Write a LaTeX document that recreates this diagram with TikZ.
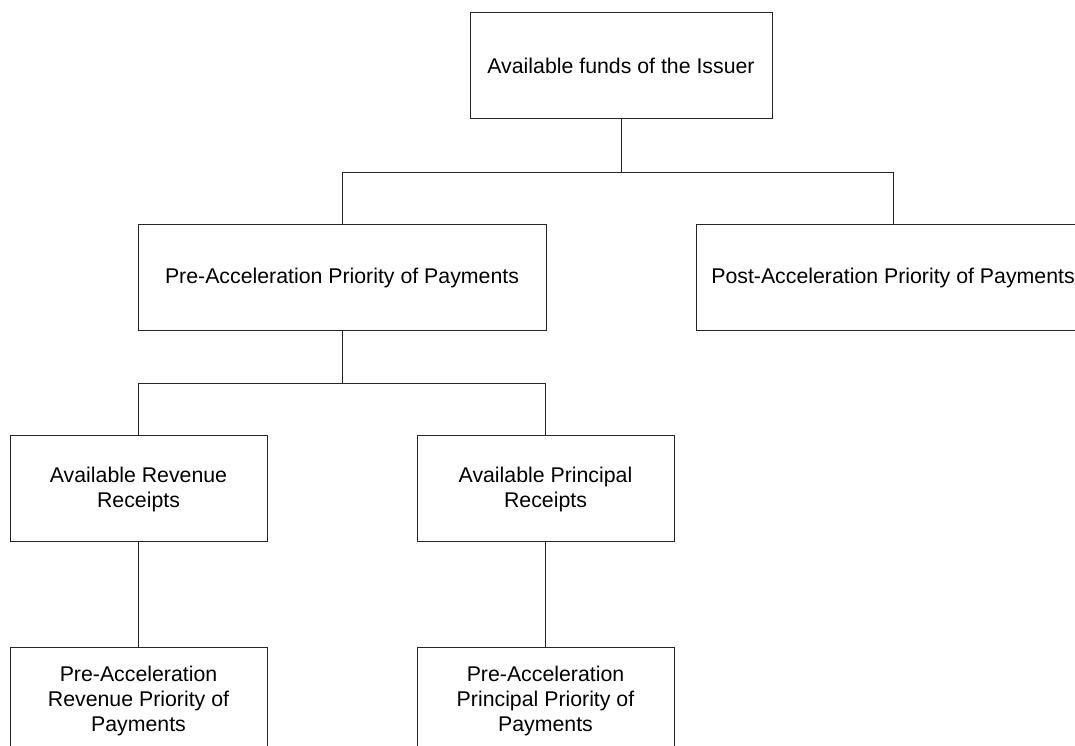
\documentclass[tikz,border=0pt]{standalone}
\usepackage{fontspec}
\setmainfont{Liberation Sans}
\begin{document}
\begin{tikzpicture}[x=1pt,y=1pt,
  box/.style={draw=black!85, line width=1pt, rectangle, align=center, inner sep=0pt,
    minimum height=106pt, font={\fontsize{21.3}{25}\selectfont}},
  conn/.style={draw=black!85, line width=1pt}]
\clip (0,0) rectangle (1075,746);
\fill[white] (0,0) rectangle (1075,746);
\node[box, minimum width=302pt] (top) at (621,680) {Available funds of the Issuer};
\node[box, minimum width=408pt] (pre) at (342,468) {Pre-Acceleration Priority of Payments};
\node[box, minimum width=394pt] (post) at (893,468) {Post-Acceleration Priority of Payments};
\node[box, minimum width=257pt] (rev) at (138.5,257) {Available Revenue\\Receipts};
\node[box, minimum width=257pt] (prin) at (545.5,257) {Available Principal\\Receipts};
\node[box, minimum width=257pt] (prerev) at (138.5,45) {Pre-Acceleration\\Revenue Priority of\\Payments};
\node[box, minimum width=257pt] (preprin) at (545.5,45) {Pre-Acceleration\\Principal Priority of\\Payments};
\draw[conn] (top.south) -- ++(0,-53) coordinate (j1);
\draw[conn] (pre.north) |- (j1) -| (post.north);
\draw[conn] (pre.south) -- ++(0,-52) coordinate (j2);
\draw[conn] (rev.north) |- (j2) -| (prin.north);
\draw[conn] (rev.south) -- (prerev.north);
\draw[conn] (prin.south) -- (preprin.north);
\end{tikzpicture}
\end{document}
